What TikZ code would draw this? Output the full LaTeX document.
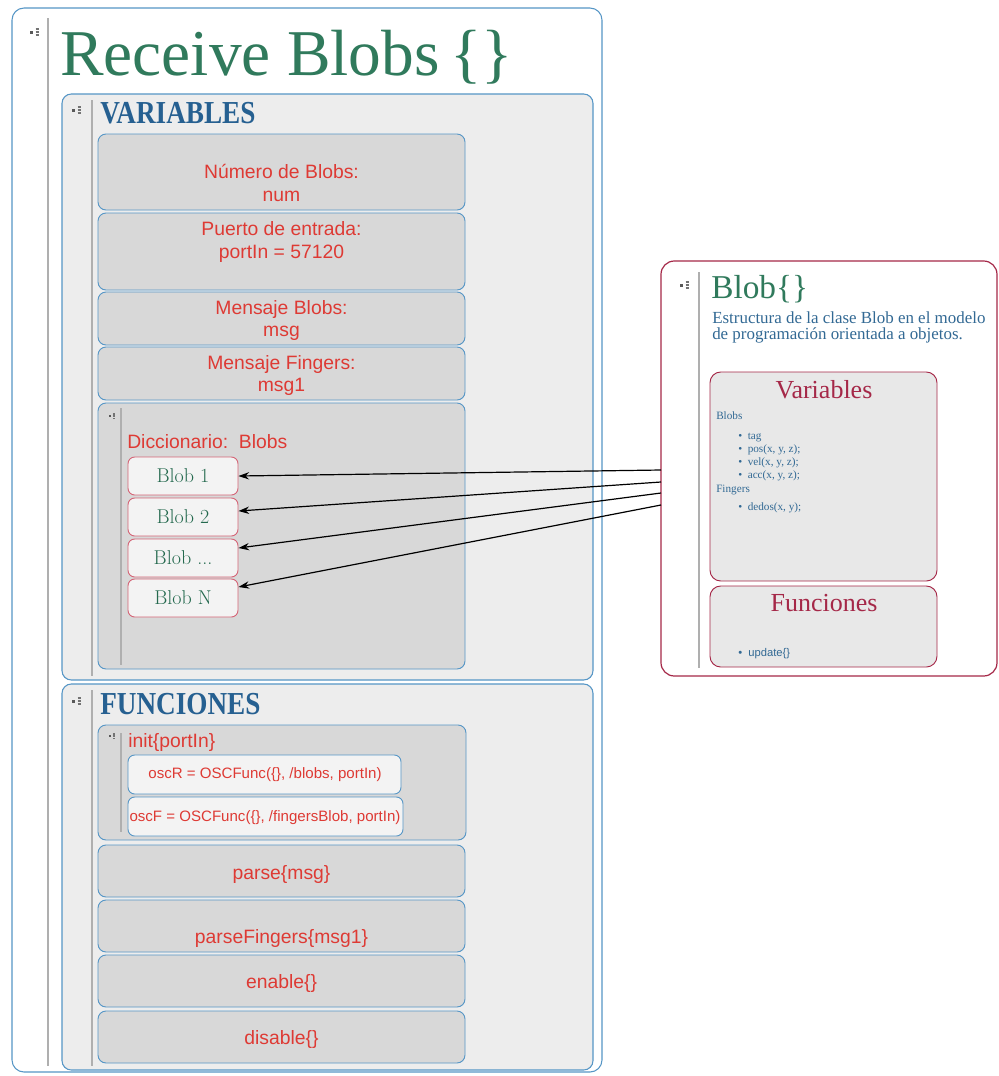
\documentclass[tikz,border=0pt]{standalone}
\usepackage{fontspec}
\newfontfamily\tnr{Liberation Serif}
\setsansfont{Liberation Sans}
\usetikzlibrary{fit,arrows.meta}
\definecolor{bblue}{RGB}{86,150,198}
\definecolor{secfill}{RGB}{237,237,237}
\definecolor{rowfill}{RGB}{216,216,216}
\definecolor{litefill}{RGB}{243,243,243}
\definecolor{tred}{RGB}{222,58,52}
\definecolor{hblue}{RGB}{38,96,145}
\definecolor{tgreen}{RGB}{48,122,92}
\definecolor{bgreen}{RGB}{36,105,78}
\definecolor{crim}{RGB}{165,40,72}
\definecolor{pinkb}{RGB}{212,100,118}
\definecolor{dblue}{RGB}{50,105,148}
\definecolor{gut}{RGB}{175,175,175}
\definecolor{clsfill}{RGB}{232,232,232}
\tikzset{
  outerbox/.style={draw=bblue, line width=0.8pt, fill=white, rounded corners=9pt, inner sep=0pt},
  secbox/.style={draw=bblue, line width=0.8pt, fill=secfill, rounded corners=7pt, inner sep=0pt},
  rowbox/.style={draw=bblue, line width=0.7pt, fill=rowfill, rounded corners=6pt, inner sep=0pt},
  oscbox/.style={draw=bblue, line width=0.7pt, fill=litefill, rounded corners=5pt, inner sep=0pt},
  osctxt/.style={text=tred, font=\sffamily\fontsize{11.3}{13}\selectfont, inner sep=0pt, anchor=base},
  blobbox/.style={draw=pinkb, line width=0.7pt, fill=litefill, rounded corners=5pt, inner sep=0pt},
  blobtxt/.style={text=bgreen, font=\fontsize{15}{17}\selectfont, inner sep=0pt, anchor=base},
  clsbox/.style={draw=crim, line width=0.9pt, fill=white, rounded corners=10pt, inner sep=0pt},
  clsinner/.style={draw=crim, line width=0.7pt, fill=clsfill, rounded corners=8pt, inner sep=0pt},
  redtxt/.style={text=tred, font=\sffamily\fontsize{14.5}{17}\selectfont, inner sep=0pt, anchor=base},
  heading/.style={text=hblue, font=\tnr\bfseries\fontsize{24}{26}\selectfont, inner sep=0pt, anchor=base west},
  smalltxt/.style={text=dblue, font=\tnr\fontsize{8.4}{9}\selectfont, inner sep=0pt, anchor=base west},
  gutter/.style={draw=gut, line width=0.8pt},
  arr/.style={-{Stealth[length=8pt,width=5.5pt]}, line width=0.9pt, black},
  handle/.pic={
    \fill[black!65] (-3,-1.5) rectangle (0,1.5);
    \foreach \dy in {-3,0,3} \draw[black!55, line width=0.9pt] (2.5,\dy) -- (6,\dy);
  }
}
\begin{document}
\begin{tikzpicture}[x=0.75pt,y=-0.75pt]
\useasboundingbox (0,0) rectangle (999,1076);
\fill[white] (0,0) rectangle (999,1076);

% ---------------- outer class box
\node[outerbox, fit={(12,8)(602,1072)}] (outer) {};
\draw[gutter] (48,18) -- (48,1066);
\pic at (33,32) {handle};
\node[anchor=base west, text=tgreen, font=\tnr\fontsize{49}{50}\selectfont, inner sep=0pt] (title) at (60,75) {Receive Blobs\,\{\}};

% ---------------- VARIABLES section
\node[secbox, fit={(62,94)(593,680)}] (vars) {};
\draw[gutter] (92,100) -- (92,676);
\pic at (75,110) {handle};
\node[heading] (varsh) at (100,123) {\scalebox{0.85}[1]{VARIABLES}};

\node[rowbox, fit={(98,134)(465,210)}] (r1) {};
\node[redtxt] (r1a) at (r1.center |- 0,178) {Número de Blobs:};
\node[redtxt] (r1b) at (r1.center |- 0,201) {num};

\node[rowbox, fit={(98,213)(465,290)}] (r2) {};
\node[redtxt] (r2a) at (r2.center |- 0,235) {Puerto de entrada:};
\node[redtxt] (r2b) at (r2.center |- 0,258) {portIn = 57120};

\node[rowbox, fit={(98,292)(465,345)}] (r3) {};
\node[redtxt] (r3a) at (r3.center |- 0,314) {Mensaje Blobs:};
\node[redtxt] (r3b) at (r3.center |- 0,336) {msg};

\node[rowbox, fit={(98,347)(465,400)}] (r4) {};
\node[redtxt] (r4a) at (r4.center |- 0,369) {Mensaje Fingers:};
\node[redtxt] (r4b) at (r4.center |- 0,391) {msg1};

\node[rowbox, fit={(98,403)(465,669)}] (dict) {};
\draw[gutter] (121,408) -- (121,665);
\pic[scale=0.7] at (111,416) {handle};
\node[redtxt, anchor=base west] (dictl) at (127,448) {Diccionario:\ \ Blobs};

\node[blobbox, fit={(128,457)(238,495)}] (b1) {};
\node[blobtxt] (b1t) at (183,482) {Blob 1};
\node[blobbox, fit={(128,498)(238,536)}] (b2) {};
\node[blobtxt] (b2t) at (183,523) {Blob 2};
\node[blobbox, fit={(128,539)(238,577)}] (b3) {};
\node[blobtxt] (b3t) at (183,564) {Blob ...};
\node[blobbox, fit={(128,579)(238,617)}] (b4) {};
\node[blobtxt] (b4t) at (183,604) {Blob N};

% ---------------- FUNCIONES section
\node[secbox, fit={(62,684)(593,1070)}] (funcs) {};
\draw[gutter] (92,690) -- (92,1066);
\pic at (75,701) {handle};
\node[heading] (funcsh) at (100,714) {\scalebox{0.85}[1]{FUNCIONES}};

\node[rowbox, fit={(98,725)(466,840)}] (init) {};
\draw[gutter] (121,733) -- (121,832);
\pic[scale=0.7] at (111,736) {handle};
\node[redtxt, anchor=base west] (initl) at (128,747) {init\{portIn\}};
\node[oscbox, fit={(128,755)(401,794)}] (oscr) {};
\node[osctxt] (oscrt) at (265,778) {oscR = OSCFunc(\{\}, /blobs, portIn)};
\node[oscbox, fit={(128,797)(403,836)}] (oscf) {};
\node[osctxt] (oscft) at (265,821) {oscF = OSCFunc(\{\}, /fingersBlob, portIn)};

\node[rowbox, fit={(98,845)(465,897)}] (parse) {};
\node[redtxt] (parsel) at (parse.center |- 0,879) {parse\{msg\}};
\node[rowbox, fit={(98,900)(465,952)}] (pfing) {};
\node[redtxt] (pfingl) at (pfing.center |- 0,943) {parseFingers\{msg1\}};
\node[rowbox, fit={(98,955)(465,1007)}] (enab) {};
\node[redtxt] (enabl) at (enab.center |- 0,988) {enable\{\}};
\node[rowbox, fit={(98,1011)(465,1063)}] (disab) {};
\node[redtxt] (disabl) at (disab.center |- 0,1044) {disable\{\}};

% ---------------- Blob class box
\node[clsbox, fit={(661,261)(997,676)}] (blobcls) {};
\draw[gutter] (699,272) -- (699,668);
\pic at (683,285) {handle};
\node[anchor=base west, text=tgreen, font=\tnr\fontsize{25}{25}\selectfont, inner sep=0pt] (clstitle) at (711,298) {Blob\{\}};
\node[anchor=base west, text=dblue, font=\tnr\fontsize{12.7}{15}\selectfont, inner sep=0pt] (desc1) at (712,323) {Estructura de la clase Blob en el modelo};
\node[anchor=base west, text=dblue, font=\tnr\fontsize{12.7}{15}\selectfont, inner sep=0pt] (desc2) at (712,339) {de programación orientada a objetos.};

\node[clsinner, fit={(710,372)(937,581)}] (cvars) {};
\node[anchor=base, text=crim, font=\tnr\fontsize{19.5}{20}\selectfont, inner sep=0pt] (cvarsl) at (824,398) {Variables};
\node[smalltxt] (sb) at (716,419) {Blobs};
\node[smalltxt] (s1) at (738,439) {\textbullet\ \ tag};
\node[smalltxt] (s2) at (738,452) {\textbullet\ \ pos(x, y, z);};
\node[smalltxt] (s3) at (738,465) {\textbullet\ \ vel(x, y, z);};
\node[smalltxt] (s4) at (738,478) {\textbullet\ \ acc(x, y, z);};
\node[smalltxt] (sf) at (716,492) {Fingers};
\node[smalltxt] (s5) at (738,510) {\textbullet\ \ dedos(x, y);};

\node[clsinner, fit={(710,586)(937,667)}] (cfuncs) {};
\node[anchor=base, text=crim, font=\tnr\fontsize{19.5}{20}\selectfont, inner sep=0pt] (cfuncsl) at (824,611) {Funciones};
\node[anchor=base west, text=dblue, font=\sffamily\fontsize{8.4}{9}\selectfont, inner sep=0pt] (su) at (738,656) {\textbullet\ \ update\{\}};

% ---------------- arrows
\coordinate (a1) at (661,470);
\coordinate (a2) at (661,482);
\coordinate (a3) at (661,493);
\coordinate (a4) at (661,505);
\draw[arr] (a1) -- (b1.east);
\draw[arr] (a2) -- ([yshift=4.5pt]b2.east);
\draw[arr] (a3) -- ([yshift=7.5pt]b3.east);
\draw[arr] (a4) -- ([yshift=8.25pt]b4.east);
\end{tikzpicture}
\end{document}
